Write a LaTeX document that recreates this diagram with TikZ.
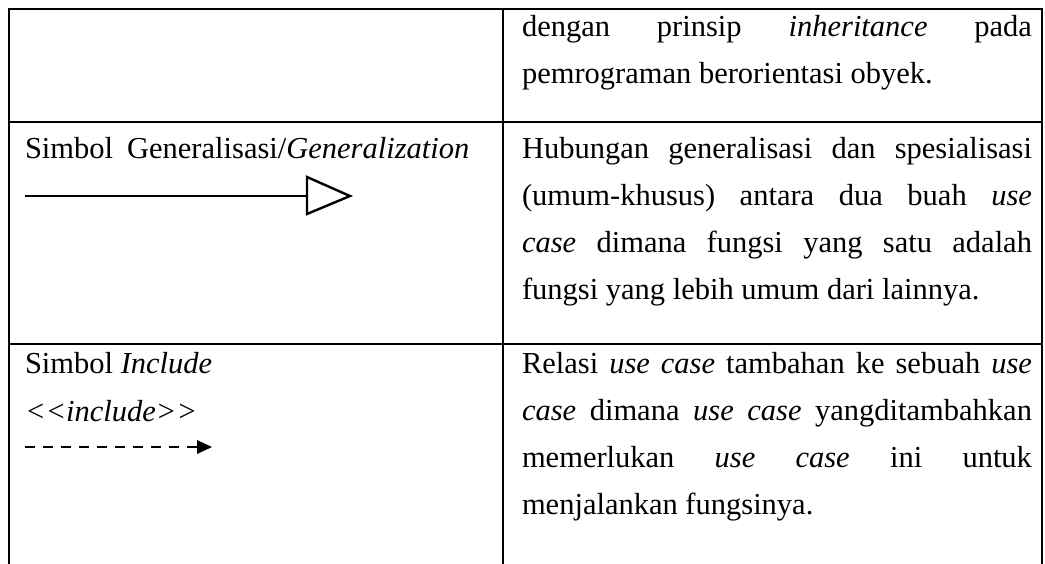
\documentclass[tikz,border=0pt]{standalone}
\usepackage{fontspec}
\setmainfont{Liberation Serif}
\begin{document}
\begin{tikzpicture}[x=1pt,y=-1pt,
  rule/.style={line width=2.6pt},
  sym/.style={line width=2.4pt},
  txt/.style={anchor=base west,inner sep=0pt,outer sep=0pt,font=\fontsize{30.5}{36}\selectfont},
]
\useasboundingbox (0,0) rectangle (1045,563);
% grid
\coordinate (tl) at (9,9);
\coordinate (tm) at (503,9);
\coordinate (tr) at (1042,9);
\coordinate (bl) at (9,566);
\coordinate (bm) at (503,566);
\coordinate (br) at (1042,566);
\coordinate (s1l) at (9,122);
\coordinate (s1r) at (1042,122);
\coordinate (s2l) at (9,344);
\coordinate (s2r) at (1042,344);
\draw[rule,line cap=rect] (bl) -- (tl) -- (tr) -- (br);
\draw[rule] (tm) -- (bm);
\draw[rule] (s1l) -- (s1r);
\draw[rule] (s2l) -- (s2r);

% row 1
\node[txt] (r1a) at (522,36) {\makebox[510pt][s]{dengan prinsip \textit{inheritance} pada}};
\node[txt] (r1b) at (522,83) {pemrograman berorientasi obyek.};

% row 2
\node[txt] (l2a) at (25,158) {Simbol\hspace{14pt}Generalisasi/\textit{Generalization}};
\node[txt] (r2a) at (522,158) {\makebox[510pt][s]{Hubungan generalisasi dan spesialisasi}};
\node[txt] (r2b) at (522,205) {\makebox[510pt][s]{(umum-khusus) antara dua buah \textit{use}}};
\node[txt] (r2c) at (522,252) {\makebox[510pt][s]{\textit{case} dimana fungsi yang satu adalah}};
\node[txt] (r2d) at (522,299) {fungsi yang lebih umum dari lainnya.};
\coordinate (g1) at (25,196);
\coordinate (g2) at (307,196);
\coordinate (gt) at (307,177);
\coordinate (gb) at (307,214);
\coordinate (gtip) at (350,196);
\draw[sym] (g1) -- (g2);
\draw[sym,line join=miter] (gt) -- (gtip) -- (gb) -- cycle;

% row 3
\node[txt] (l3a) at (25,373) {Simbol \textit{Include}};
\node[txt] (l3b) at (25,421) {\textit{\mbox{<}\mbox{<}include\mbox{>}\mbox{>}}};
\node[txt] (r3a) at (522,373) {\makebox[510pt][s]{Relasi \textit{use case} tambahan ke sebuah \textit{use}}};
\node[txt] (r3b) at (522,420) {\makebox[510pt][s]{\textit{case} dimana \textit{use case} yangditambahkan}};
\node[txt] (r3c) at (522,467) {\makebox[510pt][s]{memerlukan \textit{use} \textit{case} ini untuk}};
\node[txt] (r3d) at (522,514) {menjalankan fungsinya.};
\coordinate (i1) at (25,447);
\coordinate (i2) at (198,447);
\coordinate (it) at (197,440);
\coordinate (ib) at (197,454);
\coordinate (itip) at (212,447);
\draw[line width=2.8pt,dash pattern=on 10pt off 8pt] (i1) -- (i2);
\fill (it) -- (itip) -- (ib) -- cycle;
\end{tikzpicture}
\end{document}
